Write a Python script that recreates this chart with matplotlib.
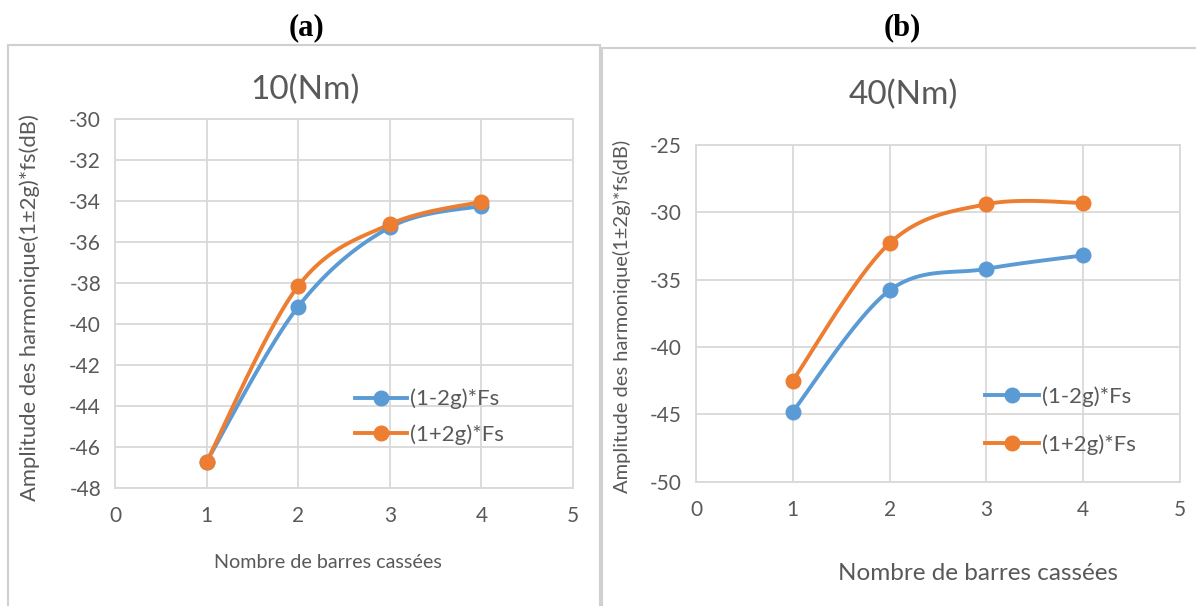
import numpy as np
import matplotlib.pyplot as plt
from matplotlib.patches import Rectangle
from matplotlib.lines import Line2D

# nombre de barres cassées
barres = [1, 2, 3, 4]

# 10 Nm
moins_10 = [-46.73, -39.17, -35.30, -34.25]
plus_10 = [-46.73, -38.16, -35.15, -34.05]

# 40 Nm
moins_40 = [-44.8, -35.8, -34.2, -33.2]
plus_40 = [-42.5, -32.3, -29.4, -29.3]

BLEU = '#5B9BD5'
ORANGE = '#ED7D31'
GRILLE = '#D9D9D9'
TEXTE = '#595959'

plt.rcParams['font.family'] = ['Lato', 'DejaVu Sans']
plt.rcParams['axes.unicode_minus'] = False


def lisse(x, y, n=40):
    # courbe lissee facon Excel (Bezier type Catmull-Rom)
    x = np.asarray(x, float)
    y = np.asarray(y, float)
    px = np.concatenate([[x[0]], x, [x[-1]]])
    py = np.concatenate([[y[0]], y, [y[-1]]])
    t = np.linspace(0, 1, n)
    xs, ys = [], []
    for i in range(1, len(px) - 2):
        p0 = np.array([px[i], py[i]])
        p3 = np.array([px[i + 1], py[i + 1]])
        c1 = p0 + (p3 - np.array([px[i - 1], py[i - 1]])) / 6
        c2 = p3 - (np.array([px[i + 2], py[i + 2]]) - p0) / 6
        b = ((1 - t) ** 3)[:, None] * p0 + (3 * (1 - t) ** 2 * t)[:, None] * c1 \
            + (3 * (1 - t) * t ** 2)[:, None] * c2 + (t ** 3)[:, None] * p3
        xs.extend(b[:, 0])
        ys.extend(b[:, 1])
    return xs, ys


def panneau(ax, m, p, ymin, ymax, pas):
    for vals, c in [(m, BLEU), (p, ORANGE)]:
        xs, ys = lisse(barres, vals)
        ax.plot(xs, ys, color=c, lw=2.8, zorder=3, solid_capstyle='round')
        ax.plot(barres, vals, 'o', color=c, ms=10.5, zorder=4)
    ax.set_xlim(0, 5)
    ax.set_ylim(ymin, ymax)
    ax.set_xticks(range(0, 6))
    ax.set_yticks(np.arange(ymin, ymax + 0.1, pas))
    ax.grid(True, color=GRILLE, lw=1.3)
    ax.set_axisbelow(True)
    for s in ax.spines.values():
        s.set_color(GRILLE)
        s.set_linewidth(1.3)
    ax.tick_params(length=0, labelsize=15, colors=TEXTE)
    ax.tick_params(axis='x', pad=13)
    ax.tick_params(axis='y', pad=10)


fig = plt.figure(figsize=(11.96, 6.06), dpi=100)

# cadres des deux graphiques
fig.patches.append(Rectangle((8 / 1196, -0.01), 592 / 1196, 1 - 45 / 606 + 0.01,
                             transform=fig.transFigure, fill=False,
                             edgecolor='#D0D0D0', lw=1.5))
fig.patches.append(Rectangle((602 / 1196, -0.01), 600 / 1196, 1 - 48 / 606 + 0.01,
                             transform=fig.transFigure, fill=False,
                             edgecolor='#D0D0D0', lw=1.5))

ax1 = fig.add_axes([115 / 1196, 1 - 487.7 / 606, 458 / 1196, 369 / 606])
panneau(ax1, moins_10, plus_10, -48, -30, 2)

ax2 = fig.add_axes([696 / 1196, 1 - 481.5 / 606, 484 / 1196, 336.5 / 606])
panneau(ax2, moins_40, plus_40, -50, -25, 5)

fig.text(305 / 1196, 1 - 90 / 606, '10(Nm)', ha='center', va='center',
         fontsize=24, color=TEXTE)
fig.text(903 / 1196, 1 - 95 / 606, '40(Nm)', ha='center', va='center',
         fontsize=24, color=TEXTE)

ylab = 'Amplitude des harmonique(1±2g)*fs(dB)'
fig.text(30 / 1196, 1 - 308 / 606, ylab, rotation=90, ha='center', va='center',
         fontsize=15.8, color=TEXTE)
fig.text(622 / 1196, 1 - 316 / 606, ylab, rotation=90, ha='center', va='center',
         fontsize=14.5, color=TEXTE)
fig.text(328 / 1196, 1 - 562 / 606, 'Nombre de barres cassées', ha='center',
         va='center', fontsize=14.2, color=TEXTE)
fig.text(978 / 1196, 1 - 573 / 606, 'Nombre de barres cassées', ha='center',
         va='center', fontsize=17.5, color=TEXTE)

fig.text(306 / 1196, 1 - 28 / 606, '(a)', ha='center', va='center', fontsize=22,
         fontweight='bold', family='Liberation Serif')
fig.text(902 / 1196, 1 - 28 / 606, '(b)', ha='center', va='center', fontsize=22,
         fontweight='bold', family='Liberation Serif')

poignees = [Line2D([], [], color=BLEU, lw=2.8, marker='o', ms=10.5),
            Line2D([], [], color=ORANGE, lw=2.8, marker='o', ms=10.5)]
noms = ['(1-2g)*Fs', '(1+2g)*Fs']
ax1.legend(poignees, noms, loc='center left', bbox_to_anchor=(0.48, 0.192),
           frameon=False, fontsize=16, labelcolor=TEXTE, handlelength=2.35,
           handletextpad=0.15, labelspacing=0.68)
ax2.legend(poignees, noms, loc='center left', bbox_to_anchor=(0.555, 0.181),
           frameon=False, fontsize=16, labelcolor=TEXTE, handlelength=2.45,
           handletextpad=0.15, labelspacing=1.2)

fig.savefig('out.png', dpi=100)
